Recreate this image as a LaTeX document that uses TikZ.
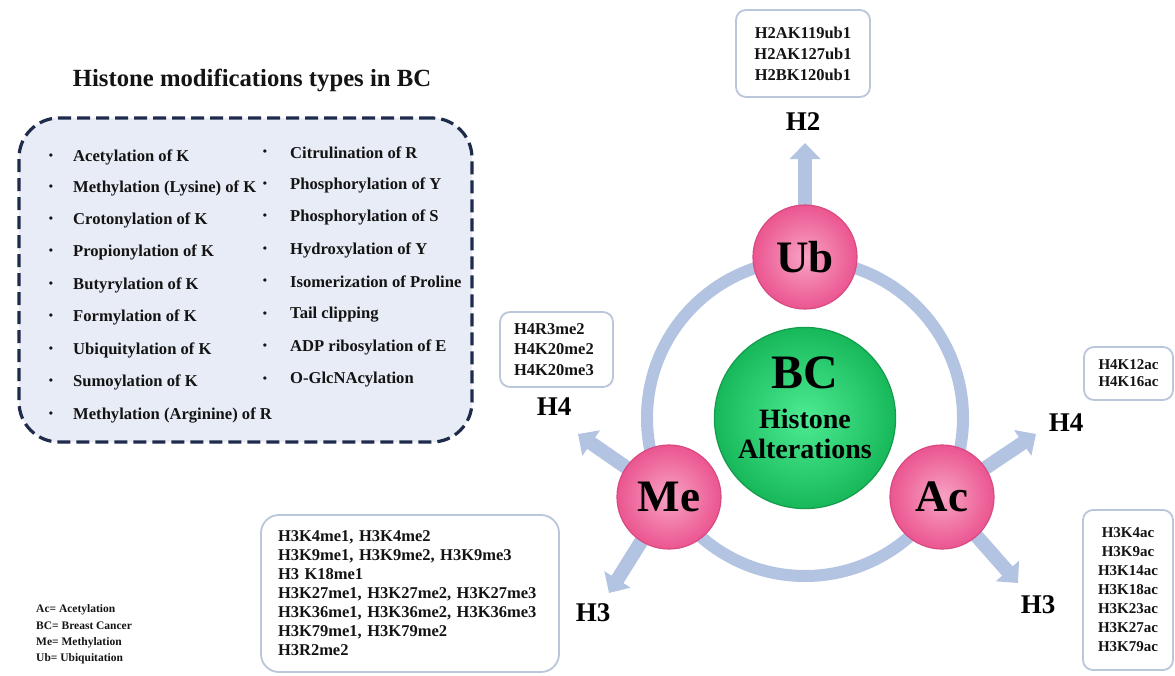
\documentclass[tikz,border=0pt]{standalone}
\usepackage{fontspec}
\setmainfont{Liberation Serif}
\newfontfamily\plainserif{Liberation Serif}
\usetikzlibrary{arrows.meta}
\definecolor{ringc}{HTML}{B3C3E2}
\definecolor{pinkin}{HTML}{F7A3C4}
\definecolor{pinkout}{HTML}{EB5590}
\definecolor{pinkrim}{HTML}{D94A82}
\definecolor{greenin}{HTML}{4DEB93}
\definecolor{greenout}{HTML}{17B85A}
\definecolor{greenrim}{HTML}{149B4C}
\definecolor{dboxfill}{HTML}{E8ECF6}
\definecolor{dboxline}{HTML}{1E2B4B}
\definecolor{boxline}{HTML}{BAC6DA}
\definecolor{txt}{HTML}{141414}
\pgfdeclarelayer{bgA}
\pgfdeclarelayer{bgB}
\pgfsetlayers{bgA,bgB,main}
\tikzset{
  pinkc/.style={circle, minimum size=104pt, inner sep=0pt, draw=pinkrim, line width=1.2pt,
    inner color=pinkin, outer color=pinkout, font=\fontsize{45}{45}\selectfont\bfseries},
  greenc/.style={circle, minimum size=180pt, inner sep=0pt, draw=greenrim, line width=1.2pt,
    inner color=greenin, outer color=greenout, align=center,
    font=\fontsize{28}{30}\selectfont\bfseries},
  ringst/.style={draw=ringc, line width=12pt},
  arr/.style={draw=ringc, line width=14pt, -{Triangle[width=30pt,length=16pt]}},
  hlabel/.style={font=\fontsize{27}{27}\selectfont\bfseries, inner sep=0pt},
  hbox/.style={draw=boxline, line width=1.8pt, fill=white, rounded corners=10pt, inner sep=0pt,
    text=txt},
  dboxst/.style={draw=dboxline, fill=dboxfill, line width=3.2pt, dash pattern=on 13pt off 6pt,
    rounded corners=40pt, inner sep=0pt},
  item/.style={anchor=west, inner sep=0pt, text=txt, font=\fontsize{16.6}{18}\selectfont\bfseries},
  bul/.style={inner sep=0pt, text=txt, font=\fontsize{12}{12}\selectfont\bfseries},
  legend/.style={anchor=west, inner sep=0pt, align=left, text=txt, font=\fontsize{11.5}{16.3}\selectfont\bfseries},
}
\begin{document}
\begin{tikzpicture}[x=1pt,y=-1pt]
\useasboundingbox (0,0) rectangle (1175,675);
\begin{pgfonlayer}{bgA}
  \fill[white] (0,0) rectangle (1175,675);
\end{pgfonlayer}

% ---- left panel ----
\node[font=\fontsize{24.7}{27}\selectfont\bfseries, inner sep=0pt, text=txt] (title) at (252,80) {Histone modifications types in BC};
\node[dboxst, minimum width=453pt, minimum height=324pt] (types) at (245.5,280) {};

\foreach \t/\yy [count=\i] in {Acetylation of K/157, Methylation (Lysine) of K/188, Crotonylation of K/220,
  Propionylation of K/252, Butyrylation of K/285, Formylation of K/317, Ubiquitylation of K/350,
  Sumoylation of K/382, Methylation (Arginine) of R/415}{
  \node[bul] (lb\i) at (51,\yy) {•};
  \node[item] (l\i) at (73,\yy) {\t};
}
\foreach \t/\yy [count=\i] in {Citrulination of R/153, Phosphorylation of Y/185, Phosphorylation of S/217,
  Hydroxylation of Y/250, Isomerization of Proline/282, Tail clipping/315, ADP ribosylation of E/347,
  O-GlcNAcylation/380}{
  \node[bul] (rb\i) at (265,\yy) {•};
  \node[item] (r\i) at (290,\yy) {\t};
}

\node[legend] (leg) at (36,634.5) {Ac= Acetylation\\BC= Breast Cancer\\Me= Methylation\\Ub= Ubiquitation};

% ---- central diagram ----
\coordinate (O) at (805,418);
\begin{pgfonlayer}{bgB}
  \draw[ringst] (O) circle[radius=158pt];
\end{pgfonlayer}
\node[greenc] (bc) at (O) {{\fontsize{48}{30}\selectfont BC}\\[9.5pt]Histone\\Alterations\rule[-21pt]{0pt}{21pt}};
\node[pinkc] (ub) at (805,257) {Ub};
\node[pinkc] (me) at (669,497) {Me};
\node[pinkc] (ac) at (942,497) {Ac};

\coordinate (tUb) at (805,143);
\coordinate (tMe4) at (578,434);
\coordinate (tMe3) at (609,593);
\coordinate (tAc4) at (1036,434);
\coordinate (tAc3) at (1018,583);
\begin{pgfonlayer}{bgB}
  \draw[arr] (ub.center) -- (tUb);
  \draw[arr] (me.center) -- (tMe4);
  \draw[arr] (me.center) -- (tMe3);
  \draw[arr] (ac.center) -- (tAc4);
  \draw[arr] (ac.center) -- (tAc3);
\end{pgfonlayer}

\node[hlabel] (lH2) at (803,122) {H2};
\node[hlabel] (lMe4) at (554,407) {H4};
\node[hlabel] (lMe3) at (593,613) {H3};
\node[hlabel] (lAc4) at (1066,423) {H4};
\node[hlabel] (lAc3) at (1038,605) {H3};

\node[hbox, minimum width=134pt, minimum height=87pt, align=center,
  font=\fontsize{16.5}{21}\selectfont\bfseries] (h2box) at (803,53.5)
  {H2AK119ub1\\H2AK127ub1\\H2BK120ub1};
\node[hbox, minimum width=113pt, minimum height=75pt, text width=85pt, align=left,
  font=\fontsize{16.5}{20.5}\selectfont\bfseries] (me4box) at (556.5,349.5)
  {H4R3me2\\H4K20me2\\H4K20me3};
\node[hbox, rounded corners=18pt, minimum width=298pt, minimum height=157pt, text width=264pt, align=left,
  font=\fontsize{16.5}{19}\selectfont\bfseries] (me3box) at (410,593.5)
  {H3K4me1, H3K4me2\\H3K9me1, H3K9me2, H3K9me3\\H3 K18me1\\H3K27me1, H3K27me2, H3K27me3\\H3K36me1, H3K36me2, H3K36me3\\H3K79me1, H3K79me2\\H3R2me2};
\node[hbox, minimum width=89pt, minimum height=53pt, align=center,
  font=\fontsize{15}{17}\selectfont\bfseries] (ac4box) at (1128.5,373.5)
  {H4K12ac\\H4K16ac};
\node[hbox, minimum width=90pt, minimum height=160pt, align=center,
  font=\fontsize{15}{19}\selectfont\bfseries] (ac3box) at (1128,590)
  {H3K4ac\\H3K9ac\\H3K14ac\\H3K18ac\\H3K23ac\\H3K27ac\\H3K79ac};
\end{tikzpicture}
\end{document}
